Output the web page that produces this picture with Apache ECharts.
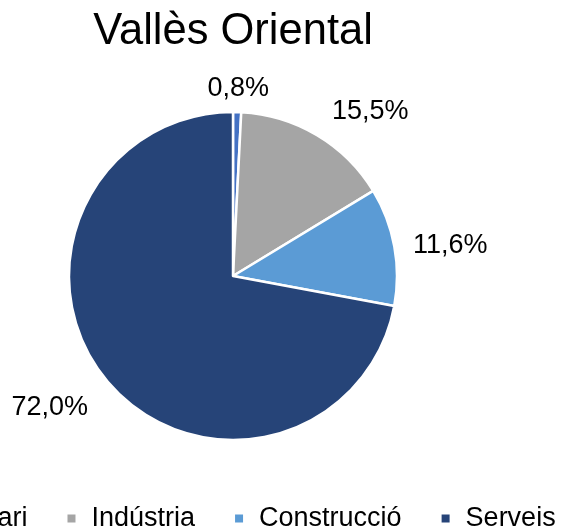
<!DOCTYPE html>
<html>
<head>
<meta charset="utf-8">
<script src="https://cdn.jsdelivr.net/npm/echarts@6/dist/echarts.min.js"></script>
<style>
  html, body { margin: 0; padding: 0; background: #fff; }
  #chart { width: 562px; height: 527px; }
</style>
</head>
<body>
<div id="chart"></div>
<script>
// Distribució per sectors - Vallès Oriental
const categories = ['Primari', 'Indústria', 'Construcció', 'Serveis'];
const values = [0.8, 15.5, 11.6, 72.0];
const colors = ['#4472C4', '#A5A5A5', '#5B9BD5', '#264478'];

const font = '"Liberation Sans", Arial, sans-serif';

// small nudges so the labels sit where the original puts them
const labelShift = [
    { dx: -35, dy: -6 },
    { dx: 0, dy: -12 },
    { dx: 1, dy: 2 },
    { dx: 0, dy: 15 }
];

const chart = echarts.init(document.getElementById('chart'));

chart.setOption({
    backgroundColor: '#ffffff',
    animation: false,
    title: {
        text: 'Vallès Oriental',
        left: 233,
        top: 10,
        padding: 0,
        textAlign: 'center',
        textStyle: { fontFamily: font, fontSize: 43.5, fontWeight: 'normal', color: '#000' }
    },
    legend: {
        data: categories,
        left: -84,
        top: 505,
        width: 800,
        padding: 0,
        icon: 'rect',
        itemWidth: 10,
        itemHeight: 10,
        itemGap: 38,
        textStyle: { fontFamily: font, fontSize: 27, color: '#000', padding: [0, 0, 0, 10] }
    },
    series: [{
        type: 'pie',
        center: [233, 276],
        radius: 164,
        startAngle: 90,
        clockwise: true,
        data: categories.map((name, i) => ({
            name: name,
            value: values[i],
            itemStyle: { color: colors[i] }
        })),
        itemStyle: { borderColor: '#fff', borderWidth: 2.5 },
        label: {
            show: true,
            position: 'outside',
            formatter: p => p.value.toFixed(1).replace('.', ',') + '%',
            fontFamily: font,
            fontSize: 27,
            color: '#000'
        },
        labelLine: { show: false, length: 18, length2: 0 },
        labelLayout: function (params) {
            return labelShift[params.dataIndex];
        }
    }]
});
</script>
</body>
</html>
